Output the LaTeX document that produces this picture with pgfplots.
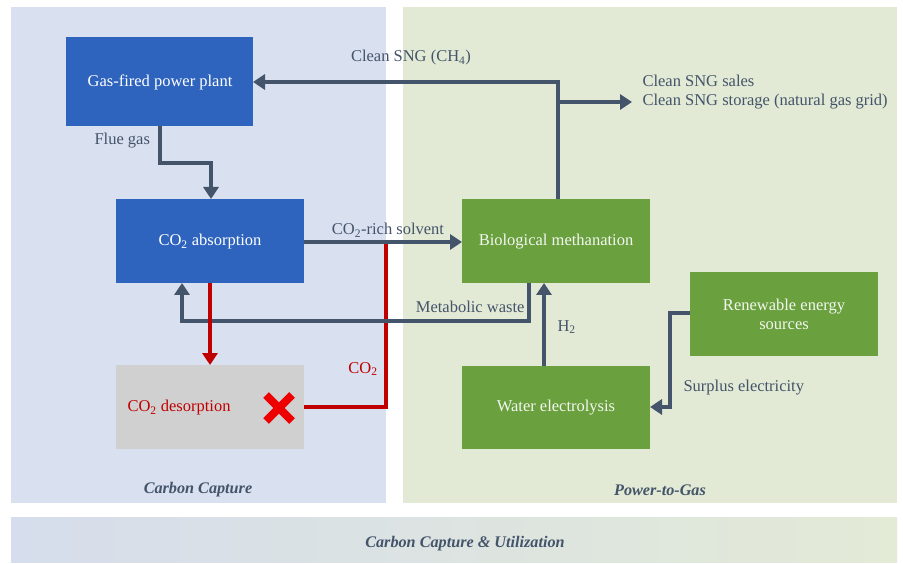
\documentclass[border=0pt]{standalone}
\usepackage{pgfplots}
\pgfplotsset{compat=1.18}
\usepackage{fontspec}
\setmainfont{Liberation Serif}
\usetikzlibrary{arrows.meta}

\definecolor{panelL}{RGB}{217,224,240}
\definecolor{panelR}{RGB}{226,234,213}
\definecolor{barL}{RGB}{214,221,236}
\definecolor{barR}{RGB}{227,234,214}
\definecolor{boxblue}{RGB}{46,100,190}
\definecolor{boxgreen}{RGB}{106,160,62}
\definecolor{boxgray}{RGB}{208,208,208}
\definecolor{flow}{RGB}{68,84,106}
\definecolor{co2red}{RGB}{192,0,0}
\definecolor{xred}{RGB}{238,0,0}

\begin{document}
\begin{tikzpicture}
\begin{axis}[
    scale only axis,
    width=903pt, height=564pt,
    xmin=0, xmax=903, ymin=0, ymax=564,
    y dir=reverse,
    hide axis,
    clip=false,
    flowline/.style={draw=flow, line width=4pt, line join=miter, mark=none},
    tip/.style={-{Triangle[width=15pt,length=12pt]}},
    box/.style={draw=none, mark=none},
]
% page and panels
\addplot[box, fill=white] coordinates {(0,0)(903,0)(903,564)(0,564)};
\addplot[box, fill=panelL] coordinates {(11,7)(386,7)(386,503)(11,503)};
\addplot[box, fill=panelR] coordinates {(403,7)(897,7)(897,503)(403,503)};
\addplot[box, left color=barL, right color=barR] coordinates {(11,517)(897,517)(897,562)(11,562)};

% process boxes
\addplot[box, fill=boxblue] coordinates {(66,37)(253,37)(253,126)(66,126)};
\addplot[box, fill=boxblue] coordinates {(116,199)(304,199)(304,283)(116,283)};
\addplot[box, fill=boxgray] coordinates {(116,365)(304,365)(304,449)(116,449)};
\addplot[box, fill=boxgreen] coordinates {(462,199)(650,199)(650,283)(462,283)};
\addplot[box, fill=boxgreen] coordinates {(462,366)(650,366)(650,449)(462,449)};
\addplot[box, fill=boxgreen] coordinates {(690,272)(878,272)(878,356)(690,356)};

% CO2 loop (red, no arrow)
\addplot[draw=co2red, line width=4pt, line join=miter, mark=none]
    coordinates {(304,407)(386,407)(386,243)};

% flows
\addplot[flowline, tip] coordinates {(160,126)(160,163)(211,163)(211,199)};
\addplot[flowline, tip] coordinates {(558,199)(558,82)(253,82)};
\addplot[flowline, tip] coordinates {(556,102)(632,102)};
\addplot[flowline, tip] coordinates {(304,242)(462,242)};
\addplot[flowline, tip] coordinates {(529,283)(529,321)(182,321)(182,283)};
\addplot[flowline, tip] coordinates {(544,366)(544,283)};
\addplot[flowline, tip] coordinates {(690,313)(670,313)(670,407)(650,407)};
\addplot[draw=co2red, line width=4pt, mark=none, tip] coordinates {(210,283)(210,365)};

% red cross
\addplot[draw=xred, line width=8pt, mark=none] coordinates {(266,395)(292,421)};
\addplot[draw=xred, line width=8pt, mark=none] coordinates {(266,421)(292,395)};

% box texts
\begin{scope}[font=\fontsize{16.5}{19}\selectfont]
\node[white] at (160,82) {Gas-fired power plant};
\node[white] at (210,242) {CO\textsubscript{2} absorption};
\node[co2red, anchor=west] at (124,408) {CO\textsubscript{2} desorption};
\node[white!92!boxgreen] at (556,242) {Biological methanation};
\node[white!92!boxgreen] at (556,408) {Water electrolysis};
\node[white!92!boxgreen, align=center] at (784,314) {Renewable energy\\ sources};

% flow labels
\node[flow, anchor=west] at (91,141) {Flue gas};
\node[flow] at (411,58) {Clean SNG (CH\textsubscript{4})};
\node[flow, anchor=west, align=left] at (639,92) {Clean SNG sales\\ Clean SNG storage (natural gas grid)};
\node[flow] at (388,230) {CO\textsubscript{2}-rich solvent};
\node[flow, anchor=east] at (528,307) {Metabolic waste};
\node[flow, anchor=west] at (554,327) {H\textsubscript{2}};
\node[flow, anchor=west] at (680,388) {Surplus electricity};
\node[co2red] at (363,369) {CO\textsubscript{2}};
\end{scope}

% section labels
\begin{scope}[font=\fontsize{16.2}{19}\selectfont\bfseries\itshape]
\node[flow] at (198,490) {Carbon Capture};
\node[flow] at (660,490) {Power-to-Gas};
\node[flow] at (465,544) {Carbon Capture \& Utilization};
\end{scope}
\end{axis}
\end{tikzpicture}
\end{document}
